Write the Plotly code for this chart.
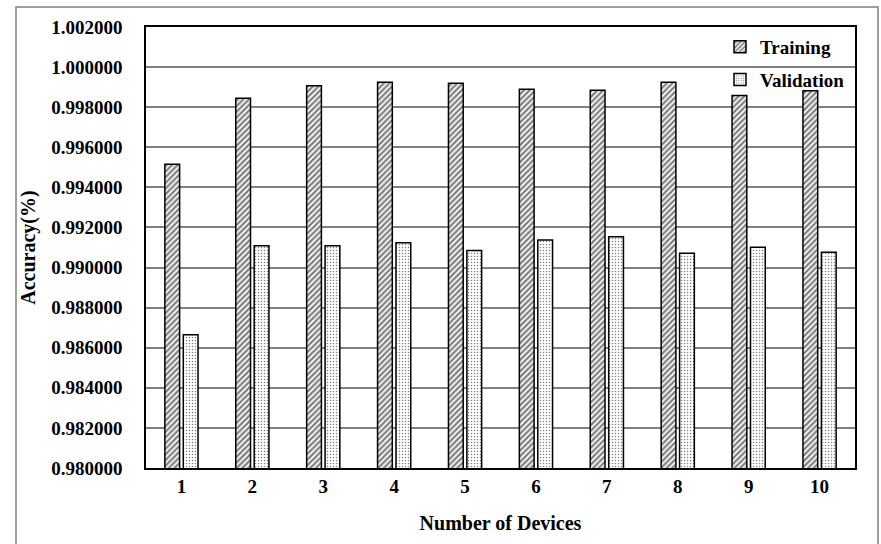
import plotly.graph_objects as go

devices = ["1", "2", "3", "4", "5", "6", "7", "8", "9", "10"]
training = [0.99515, 0.99845, 0.99907, 0.99925, 0.99920, 0.99890, 0.99884, 0.99925, 0.99858, 0.99882]
validation = [0.98665, 0.99109, 0.99109, 0.99124, 0.99085, 0.99137, 0.99154, 0.99071, 0.99101, 0.99076]
y_ticks = [0.980 + 0.002 * i for i in range(12)]
y_labels = ["%.6f" % v for v in y_ticks]

FONT = "Liberation Serif, Times New Roman, serif"

W, H = 881, 544
ML, MR, MT, MB = 146, 26, 27, 76
pw, ph = W - ML - MR, H - MT - MB

fig = go.Figure()
fig.add_trace(go.Bar(
    x=devices, y=training, name="Training", legendgroup="a",
    marker=dict(color="white", line=dict(color="black", width=1.5),
                pattern=dict(shape="/", fgcolor="black", bgcolor="white", size=4, solidity=0.55)),
))
fig.add_trace(go.Bar(
    x=devices, y=validation, name="Validation", legendgroup="b",
    marker=dict(color="white", line=dict(color="black", width=1.5),
                pattern=dict(shape=".", fgcolor="black", bgcolor="white", size=3, solidity=0.2)),
))


def px_x(p):
    return (p - ML) / pw


def px_y(p):
    return 1 - (p - MT) / ph


# outer chart frame
fig.add_shape(type="rect", xref="paper", yref="paper",
              x0=px_x(16), x1=px_x(878), y0=px_y(560), y1=px_y(7),
              line=dict(color="#808080", width=1.5), fillcolor="rgba(0,0,0,0)", layer="below")

fig.update_layout(
    width=W, height=H,
    margin=dict(l=ML, r=MR, t=MT, b=MB),
    paper_bgcolor="white", plot_bgcolor="white",
    barmode="group", bargap=0.48, bargroupgap=0.2,
    font=dict(family=FONT, color="black", size=19),
    showlegend=True,
    legend=dict(x=px_x(850), y=px_y(28), xanchor="right", yanchor="top",
                bgcolor="rgba(0,0,0,0)", tracegroupgap=5,
                font=dict(family=FONT, size=19, weight="bold"),
                itemwidth=30),
    xaxis=dict(
        title=dict(text="Number of Devices", font=dict(family=FONT, size=20, weight="bold"), standoff=20),
        tickfont=dict(family=FONT, size=19, weight="bold"),
        showline=True, linecolor="black", linewidth=1.5, mirror=True,
        ticks="", showgrid=False,
    ),
    yaxis=dict(
        title=dict(text="Accuracy(%)", font=dict(family=FONT, size=20, weight="bold"), standoff=10),
        range=[0.980, 1.002],
        tickvals=y_ticks, ticktext=y_labels,
        tickfont=dict(family=FONT, size=19, weight="bold"),
        showline=True, linecolor="black", linewidth=1.5, mirror=True,
        showgrid=True, gridcolor="#808080", gridwidth=1.5,
        ticks="", ticklabelstandoff=18, zeroline=False,
    ),
)

fig.write_html("out.html", config={"displayModeBar": False},
               post_script="document.body.style.margin='0';")
